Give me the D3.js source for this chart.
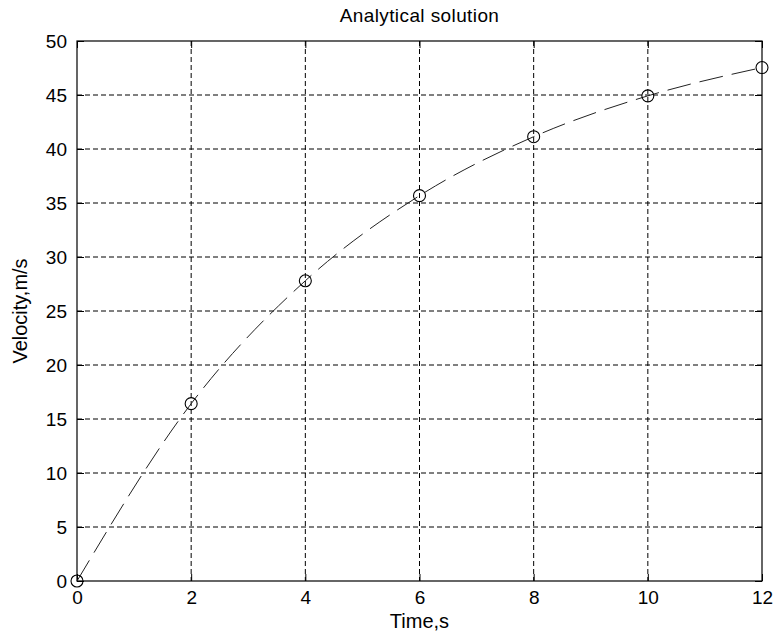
<!DOCTYPE html>
<html>
<head>
<meta charset="utf-8">
<script src="https://cdn.jsdelivr.net/npm/d3@7"></script>
<style>
  body { margin: 0; background: #fff; }
  text { font-family: "Liberation Sans", Arial, sans-serif; fill: #000; }
</style>
</head>
<body>
<div id="chart"></div>
<script>
// Analytical solution: velocity of a falling object, sampled every 2 s
var times = [0, 2, 4, 6, 8, 10, 12];
var velocities = [0, 16.42, 27.80, 35.68, 41.14, 44.92, 47.54];
var xTicks = [0, 2, 4, 6, 8, 10, 12];
var yTicks = [0, 5, 10, 15, 20, 25, 30, 35, 40, 45, 50];
var titleText = "Analytical solution";
var xLabel = "Time,s";
var yLabel = "Velocity,m/s";

(function(){
  var width = 773, height = 636;
  var margin = {top: 41, right: 11, bottom: 55, left: 77};
  var innerW = width - margin.left - margin.right,
      innerH = height - margin.top - margin.bottom;

  var svg = d3.select("#chart").append("svg")
      .attr("width", width)
      .attr("height", height);

  svg.append("rect").attr("width", width).attr("height", height).attr("fill", "#fff");

  var g = svg.append("g")
      .attr("transform", "translate(" + margin.left + "," + margin.top + ")");

  var x = d3.scaleLinear().domain([0, 12]).range([0, innerW]);
  var y = d3.scaleLinear().domain([0, 50]).range([innerH, 0]);

  // dotted grid
  g.selectAll(".vgrid")
      .data(xTicks.slice(1, -1))
      .enter().append("line")
      .attr("x1", d => x(d)).attr("x2", d => x(d))
      .attr("y1", 0).attr("y2", innerH)
      .attr("stroke", "#000").attr("stroke-width", 1)
      .attr("stroke-dasharray", "5,3");
  g.selectAll(".hgrid")
      .data(yTicks.slice(1, -1))
      .enter().append("line")
      .attr("x1", 0).attr("x2", innerW)
      .attr("y1", d => y(d)).attr("y2", d => y(d))
      .attr("stroke", "#000").attr("stroke-width", 1)
      .attr("stroke-dasharray", "5,3");

  // axes with inward ticks (MATLAB style), labels drawn by d3.axis
  var tickLen = 7;
  var xAxis = g.append("g")
      .attr("transform", "translate(0," + innerH + ")")
      .call(d3.axisBottom(x).tickValues(xTicks).tickSizeInner(-tickLen).tickSizeOuter(0).tickPadding(10));
  var yAxis = g.append("g")
      .call(d3.axisLeft(y).tickValues(yTicks).tickSizeInner(-tickLen).tickSizeOuter(0).tickPadding(10));
  g.append("g")
      .call(d3.axisTop(x).tickValues(xTicks).tickSizeInner(-tickLen).tickSizeOuter(0).tickFormat(""));
  g.append("g")
      .attr("transform", "translate(" + innerW + ",0)")
      .call(d3.axisRight(y).tickValues(yTicks).tickSizeInner(-tickLen).tickSizeOuter(0).tickFormat(""));

  g.selectAll(".domain").remove();
  g.selectAll(".tick line").attr("stroke", "#000");
  g.selectAll(".tick text")
      .style("font-family", "'Liberation Sans', Arial, sans-serif")
      .style("font-size", "19px")
      .attr("fill", "#000");
  xAxis.selectAll(".tick text").attr("dy", "0.71em");

  // box
  g.append("rect")
      .attr("width", innerW).attr("height", innerH)
      .attr("fill", "none").attr("stroke", "#000").attr("stroke-width", 1.2);

  // dashed line
  var line = d3.line()
      .x((d, i) => x(times[i]))
      .y(d => y(d))
      .curve(d3.curveMonotoneX);
  g.append("path")
      .datum(velocities)
      .attr("d", line)
      .attr("fill", "none")
      .attr("stroke", "#222")
      .attr("stroke-width", 1)
      .attr("stroke-dasharray", "24,9");

  // circle markers
  g.selectAll(".marker")
      .data(velocities)
      .enter().append("circle")
      .attr("cx", (d, i) => x(times[i]))
      .attr("cy", d => y(d))
      .attr("r", 6)
      .attr("fill", "none")
      .attr("stroke", "#000")
      .attr("stroke-width", 1.1);

  // title and axis labels
  svg.append("text")
      .attr("x", margin.left + innerW / 2).attr("y", 22)
      .attr("text-anchor", "middle")
      .style("font-size", "19px")
      .style("letter-spacing", "0.4px")
      .text(titleText);
  svg.append("text")
      .attr("x", margin.left + innerW / 2).attr("y", 628)
      .attr("text-anchor", "middle")
      .style("font-size", "20px")
      .text(xLabel);
  svg.append("text")
      .attr("transform", "translate(27," + (margin.top + innerH / 2) + ") rotate(-90)")
      .attr("text-anchor", "middle")
      .style("font-size", "20px")
      .text(yLabel);
})();
</script>
</body>
</html>
